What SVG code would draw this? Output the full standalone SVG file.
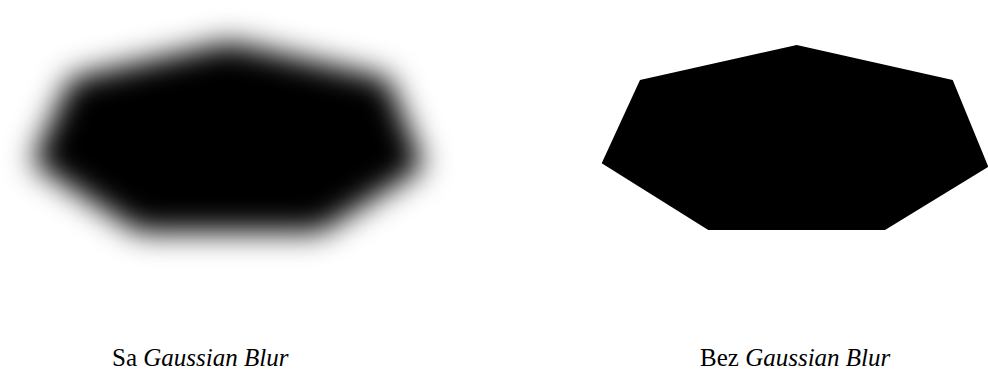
<svg xmlns="http://www.w3.org/2000/svg" width="988" height="372" viewBox="0 0 988 372">
  <defs>
    <filter id="blur" x="-30%" y="-60%" width="160%" height="220%">
      <feGaussianBlur stdDeviation="15"/>
    </filter>
    <style>
      .shape { fill: #000000; }
      .label { font-family: "Liberation Serif", "Times New Roman", serif; font-size: 25px; fill: #000000; }
      .it { font-style: italic; }
    </style>
  </defs>
  <rect width="988" height="372" fill="#ffffff"/>
  <g id="blurred">
    <polygon class="shape" filter="url(#blur)" points="230,42 388,78 424,167 320,232 139,232 32,163 71,78"/>
  </g>
  <g id="sharp">
    <polygon class="shape" points="796.7,45 952.7,80 988.3,166.7 885,230 708.3,230 601.7,163.3 640,80"/>
  </g>
  <g id="label-left">
    <text class="label" x="112" y="366">Sa <tspan class="it">Gaussian Blur</tspan></text>
  </g>
  <g id="label-right">
    <text class="label" x="700" y="366">Bez <tspan class="it">Gaussian Blur</tspan></text>
  </g>
</svg>
